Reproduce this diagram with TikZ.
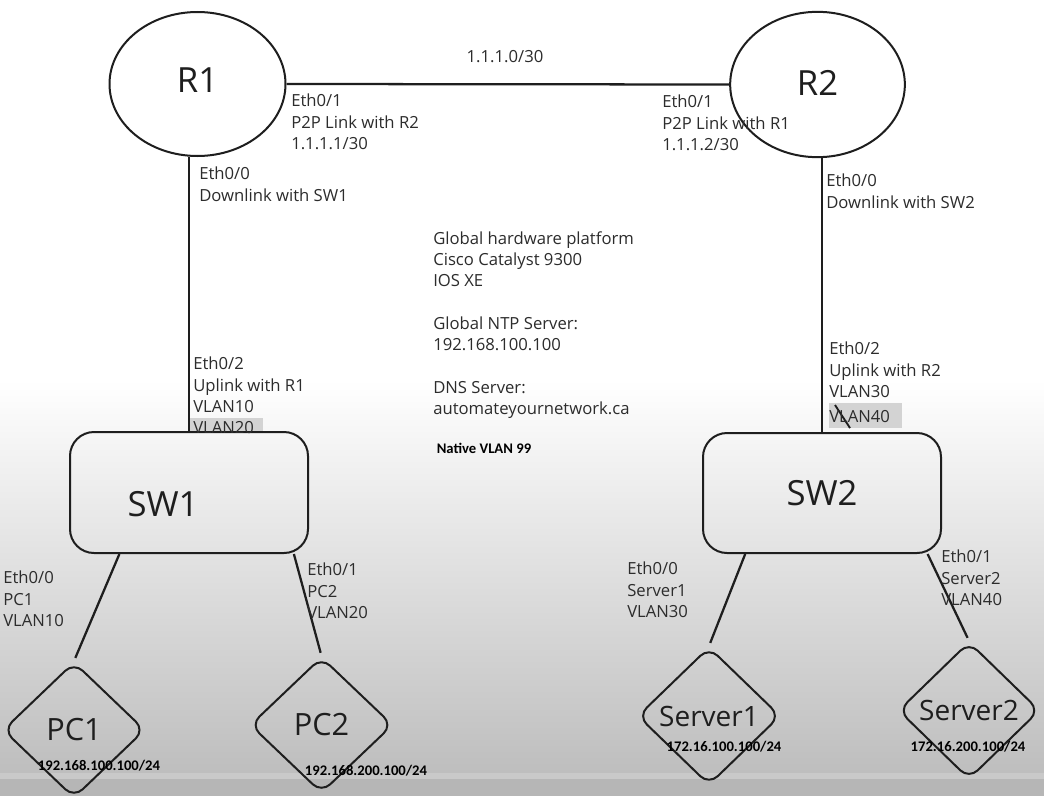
\documentclass[tikz,border=0pt]{standalone}
\usepackage{fontspec}
\setmainfont{Open Sans}
\newfontfamily\calibrifont{Carlito}
\usetikzlibrary{shapes.geometric,calc}
\definecolor{ink}{HTML}{1E1E1E}
\definecolor{lbl}{HTML}{2C2C2C}
\definecolor{hlgray}{HTML}{D3D3D3}
\definecolor{bgend}{HTML}{BEBEBE}
\definecolor{bgband}{HTML}{C9C9C9}
\definecolor{bgbottom}{HTML}{B6B6B6}
\begin{document}
\begin{tikzpicture}[x=0.75pt,y=-0.75pt,
  router/.style={ellipse, draw=ink, line width=1.5pt, inner sep=0pt, text=ink,
    font=\fontsize{26}{30}\selectfont},
  switchbox/.style={rectangle, rounded corners=18pt, draw=ink, line width=1.5pt,
    inner sep=0pt, text=ink, font=\fontsize{26}{30}\selectfont},
  hostbox/.style={diamond, rounded corners=9pt, draw=ink, line width=1.5pt,
    inner sep=0pt, text=ink},
  link/.style={draw=ink, line width=1.7pt},
  hostlink/.style={draw=ink, line width=1.7pt, shorten >=2.5pt},
  portlabel/.style={anchor=north west, inner sep=0pt, align=left, text=lbl,
    font=\fontsize{12.5}{16}\selectfont},
  iplabel/.style={inner sep=0pt, text=black,
    font=\calibrifont\bfseries\fontsize{11}{13}\selectfont},
  hl/.style={fill=hlgray, draw=none}]
% background
\useasboundingbox (0,0) rectangle (1044,796);
\fill[white] (0,0) rectangle (1044,796);
\shade[top color=white, bottom color=bgend] (0,380) rectangle (1044,773);
\fill[bgband] (0,773) rectangle (1044,779);
\fill[bgbottom] (0,779) rectangle (1044,796);
% highlights
\fill[hl] (188,418) rectangle (263,433);
\fill[hl] (829,403) rectangle (902,428);
% devices
\node[router, minimum width=132pt, minimum height=108pt,
  label={[font=\fontsize{26}{30}\selectfont, text=ink, yshift=3pt]center:R1}] (R1) at (197.5,84) {};
\node[router, minimum width=131pt, minimum height=109pt,
  label={[font=\fontsize{26}{30}\selectfont, text=ink, yshift=1.5pt]center:R2}] (R2) at (817.5,84.5) {};
\node[switchbox, minimum width=178.5pt, minimum height=90.75pt,
  label={[font=\fontsize{26}{30}\selectfont, text=ink, xshift=-19.5pt, yshift=-9pt]center:SW1}] (SW1) at (189,492.5) {};
\node[switchbox, minimum width=178.5pt, minimum height=90pt] (SW2) at (822,493) {SW2};
\node[hostbox, minimum width=106.5pt, minimum height=102pt, font=\fontsize{23}{26}\selectfont] (PC1) at (74,730) {PC1};
\node[hostbox, minimum width=107pt, minimum height=102pt, font=\fontsize{23}{26}\selectfont] (PC2) at (321.5,725) {PC2};
\node[hostbox, minimum width=107pt, minimum height=103.5pt, font=\fontsize{21}{24}\selectfont] (SV1) at (709,716) {Server1};
\node[hostbox, minimum width=106pt, minimum height=103pt, font=\fontsize{21}{24}\selectfont] (SV2) at (969,710.5) {Server2};
% connectors
\draw[link] (R1.east) -- (R2.west);
\draw[link] (R1.south -| SW1.north) -- (SW1.north);
\draw[link] (R2.south -| SW2.north) -- (SW2.north);
\draw[hostlink] ($(SW1.south west)!0.21!(SW1.south east)$) -- (PC1.north);
\draw[hostlink] ($(SW1.south west)!0.937!(SW1.south east)$) -- (PC2.north);
\draw[hostlink] ($(SW2.south west)!0.18!(SW2.south east)$) -- (SV1.north);
\draw[hostlink] ($(SW2.south west)!0.94!(SW2.south east)$) -- (SV2.north);
% stroke through VLAN40
\draw[ink, line width=1.4pt] (835,405) -- (850,428);
% labels
\node[inner sep=0pt, text=lbl, font=\fontsize{12.5}{16}\selectfont] (net) at (505,57) {1.1.1.0/30};
\node[portlabel] (lR1e1) at (291,94) {Eth0/1\\P2P Link with R2\\1.1.1.1/30};
\node[portlabel] (lR2e1) at (662,95) {Eth0/1\\P2P Link with R1\\1.1.1.2/30};
\node[portlabel] (lR1e0) at (199,167) {Eth0/0\\Downlink with SW1};
\node[portlabel] (lR2e0) at (826,174) {Eth0/0\\Downlink with SW2};
\node[portlabel] (lSW1up) at (193,357) {Eth0/2\\Uplink with R1\\VLAN10\\VLAN20};
\node[portlabel] (lSW2up) at (829,342) {Eth0/2\\Uplink with R2\\VLAN30\\[3pt]VLAN40};
\node[portlabel] (glob) at (433,231) {Global hardware platform\\Cisco Catalyst 9300\\IOS XE\\[16pt]Global NTP Server:\\192.168.100.100\\[16pt]DNS Server:\\automateyournetwork.ca};
\node[iplabel] (native) at (484,448) {Native VLAN 99};
\node[portlabel] (lPC1) at (3,571) {Eth0/0\\PC1\\VLAN10};
\node[portlabel] (lPC2) at (307,563) {Eth0/1\\PC2\\VLAN20};
\node[portlabel] (lSV1) at (627,562) {Eth0/0\\Server1\\VLAN30};
\node[portlabel] (lSV2) at (941,550) {Eth0/1\\Server2\\VLAN40};
\node[iplabel] (ipPC1) at (99,766) {192.168.100.100/24};
\node[iplabel] (ipPC2) at (366,771) {192.168.200.100/24};
\node[iplabel] (ipSV1) at (724,747) {172.16.100.100/24};
\node[iplabel] (ipSV2) at (968,747) {172.16.200.100/24};
\end{tikzpicture}
\end{document}
